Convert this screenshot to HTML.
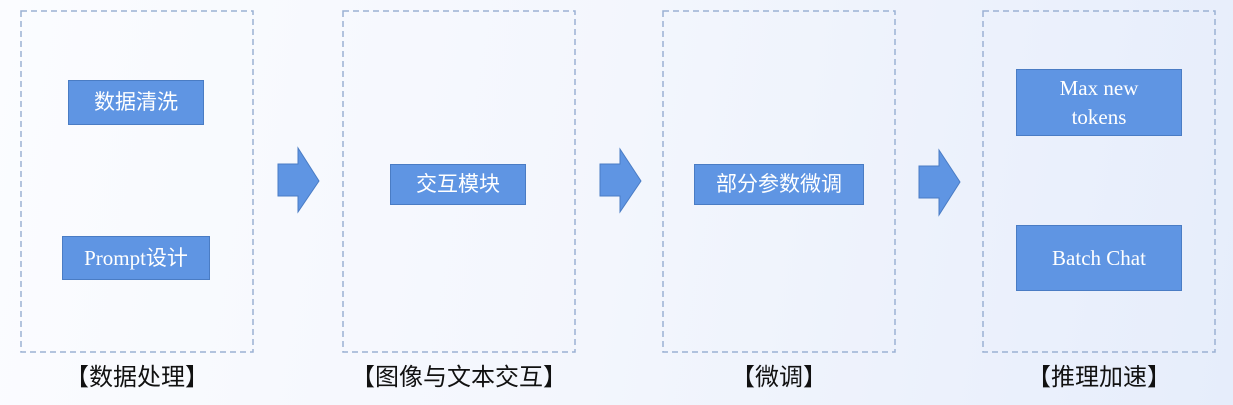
<!DOCTYPE html>
<html><head><meta charset="utf-8"><style>
body{margin:0;width:1233px;height:405px;overflow:hidden;background:linear-gradient(100deg,#fbfcff 0%,#f3f6fd 50%,#e6edfb 100%);font-family:"Liberation Serif","Noto Sans CJK SC",serif;position:relative}
.b{position:absolute;background:#5f95e3;border:1px solid #4a7cc4;box-sizing:border-box;color:#fff;display:flex;align-items:center;justify-content:center;text-align:center;font-size:21px;line-height:29px;font-family:"Liberation Serif","Noto Sans CJK SC",serif}
.l{position:absolute;top:357px;font-size:24px;font-family:"Liberation Sans","Noto Sans CJK SC",sans-serif;color:#111;width:300px;text-align:center}
svg{position:absolute}
</style></head><body>
<svg width="1233" height="405" style="left:0;top:0">
<g fill="none" stroke="#9bb1d3" stroke-width="1.5" stroke-dasharray="6,4">
<rect x="21" y="11" width="232" height="341"/>
<rect x="343" y="11" width="232" height="341"/>
<rect x="663" y="11" width="232" height="341"/>
<rect x="983" y="11" width="232" height="341"/>
</g></svg>
<div class="b" style="left:68px;top:80px;width:136px;height:45px">数据清洗</div>
<div class="b" style="left:62px;top:236px;width:148px;height:44px">Prompt设计</div>
<div class="b" style="left:390px;top:164px;width:136px;height:41px">交互模块</div>
<div class="b" style="left:694px;top:164px;width:170px;height:41px">部分参数微调</div>
<div class="b" style="left:1016px;top:69px;width:166px;height:67px">Max new<br>tokens</div>
<div class="b" style="left:1016px;top:225px;width:166px;height:66px">Batch Chat</div>
<svg width="1233" height="405" style="left:0;top:0">
<g fill="#5f95e3" stroke="#4a7cc4" stroke-width="1">
<polygon points="278,164 298,164 298,148 319,181 298,212 298,196 278,196"/>
<polygon points="600,164 620,164 620,149 641,181 620,212 620,196 600,196"/>
<polygon points="919,166 939,166 939,150 960,182 939,215 939,198 919,198"/>
</g></svg>
<div class="l" style="left:-13px">【数据处理】</div>
<div class="l" style="left:309px">【图像与文本交互】</div>
<div class="l" style="left:629px">【微调】</div>
<div class="l" style="left:949px">【推理加速】</div>
</body></html>
